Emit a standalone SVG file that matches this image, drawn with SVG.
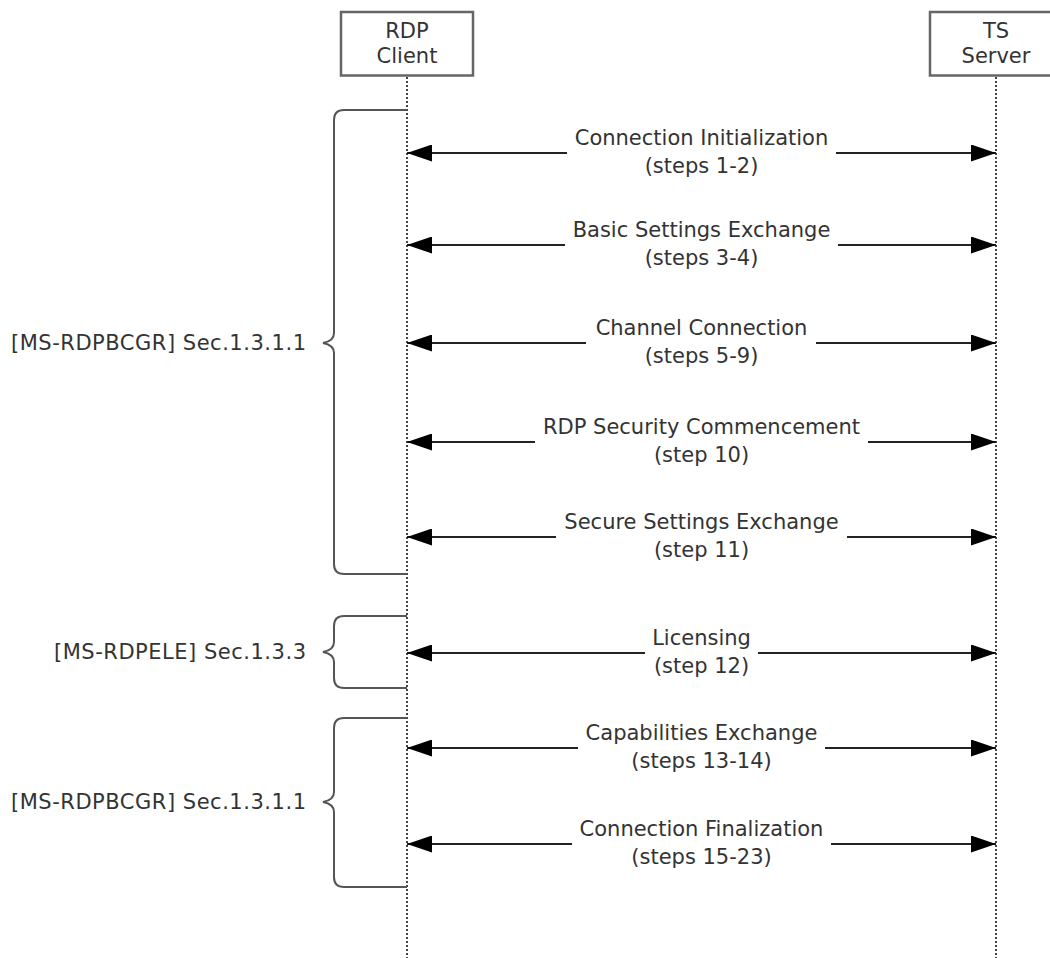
<svg xmlns="http://www.w3.org/2000/svg" width="1050" height="958" viewBox="0 0 1050 958">
<defs>
<style>
text{font-family:"DejaVu Sans","Liberation Sans",sans-serif;font-size:21px;fill:#333;}
.c{text-anchor:middle;}
.e{text-anchor:end;}
.box{fill:#fff;stroke:#666;stroke-width:2.5;}
.life{stroke:#444;stroke-width:2;stroke-dasharray:2 2;fill:none;}
.msg{stroke:#222;stroke-width:2.2;fill:none;}
.brace{stroke:#555;stroke-width:2;fill:none;}
</style>
<marker id="ah" viewBox="0 0 25 17" refX="25" refY="8.5" markerWidth="25" markerHeight="17" markerUnits="userSpaceOnUse" orient="auto-start-reverse">
<path d="M0,0 L25,8.5 L0,17 Z" fill="#000"/>
</marker>
</defs>
<rect width="1050" height="958" fill="#fff"/>

<g id="client">
<rect class="box" x="341" y="12" width="132" height="63.5"/>
<text class="c" x="407" y="38">RDP</text>
<text class="c" x="407" y="63">Client</text>
</g>
<g id="server">
<rect class="box" x="930" y="12" width="132" height="63.5"/>
<text class="c" x="996" y="38">TS</text>
<text class="c" x="996" y="63">Server</text>
</g>

<g id="lifelines">
<line class="life" x1="407" y1="77" x2="407" y2="958"/>
<line class="life" x1="996" y1="77" x2="996" y2="958"/>
</g>

<g id="braces">
<g id="brace1">
<path class="brace" d="M407,110 H344 Q334,110 334,120 V333 Q334,341 323,343 Q334,345 334,353 V564 Q334,574 344,574 H407"/>
<text class="e" x="306" y="350" textLength="295" lengthAdjust="spacing">[MS-RDPBCGR] Sec.1.3.1.1</text>
</g>
<g id="brace2">
<path class="brace" d="M407,616 H344 Q334,616 334,626 V642 Q334,650 323,652 Q334,654 334,662 V678 Q334,688 344,688 H407"/>
<text class="e" x="306" y="659" textLength="252" lengthAdjust="spacing">[MS-RDPELE] Sec.1.3.3</text>
</g>
<g id="brace3">
<path class="brace" d="M407,718 H344 Q334,718 334,728 V792 Q334,800 323,802 Q334,804 334,812 V877 Q334,887 344,887 H407"/>
<text class="e" x="306" y="809" textLength="295" lengthAdjust="spacing">[MS-RDPBCGR] Sec.1.3.1.1</text>
</g>
</g>

<g id="connectors">
<g id="m1">
<line class="msg" x1="567" y1="153" x2="407" y2="153" marker-end="url(#ah)"/>
<line class="msg" x1="836" y1="153" x2="996" y2="153" marker-end="url(#ah)"/>
<text class="c" x="701.5" y="145">Connection Initialization</text>
<text class="c" x="701.5" y="173">(steps 1-2)</text>
</g>
<g id="m2">
<line class="msg" x1="565" y1="245" x2="407" y2="245" marker-end="url(#ah)"/>
<line class="msg" x1="838" y1="245" x2="996" y2="245" marker-end="url(#ah)"/>
<text class="c" x="701.5" y="237">Basic Settings Exchange</text>
<text class="c" x="701.5" y="265">(steps 3-4)</text>
</g>
<g id="m3">
<line class="msg" x1="586" y1="343" x2="407" y2="343" marker-end="url(#ah)"/>
<line class="msg" x1="816" y1="343" x2="996" y2="343" marker-end="url(#ah)"/>
<text class="c" x="701.5" y="335">Channel Connection</text>
<text class="c" x="701.5" y="363">(steps 5-9)</text>
</g>
<g id="m4">
<line class="msg" x1="535" y1="442" x2="407" y2="442" marker-end="url(#ah)"/>
<line class="msg" x1="868" y1="442" x2="996" y2="442" marker-end="url(#ah)"/>
<text class="c" x="701.5" y="434">RDP Security Commencement</text>
<text class="c" x="701.5" y="462">(step 10)</text>
</g>
<g id="m5">
<line class="msg" x1="556" y1="537" x2="407" y2="537" marker-end="url(#ah)"/>
<line class="msg" x1="847" y1="537" x2="996" y2="537" marker-end="url(#ah)"/>
<text class="c" x="701.5" y="529">Secure Settings Exchange</text>
<text class="c" x="701.5" y="557">(step 11)</text>
</g>
<g id="m6">
<line class="msg" x1="645" y1="653" x2="407" y2="653" marker-end="url(#ah)"/>
<line class="msg" x1="758" y1="653" x2="996" y2="653" marker-end="url(#ah)"/>
<text class="c" x="701.5" y="645">Licensing</text>
<text class="c" x="701.5" y="673">(step 12)</text>
</g>
<g id="m7">
<line class="msg" x1="578" y1="748" x2="407" y2="748" marker-end="url(#ah)"/>
<line class="msg" x1="825" y1="748" x2="996" y2="748" marker-end="url(#ah)"/>
<text class="c" x="701.5" y="740">Capabilities Exchange</text>
<text class="c" x="701.5" y="768">(steps 13-14)</text>
</g>
<g id="m8">
<line class="msg" x1="572" y1="844" x2="407" y2="844" marker-end="url(#ah)"/>
<line class="msg" x1="831" y1="844" x2="996" y2="844" marker-end="url(#ah)"/>
<text class="c" x="701.5" y="836">Connection Finalization</text>
<text class="c" x="701.5" y="864">(steps 15-23)</text>
</g>
</g>
</svg>
